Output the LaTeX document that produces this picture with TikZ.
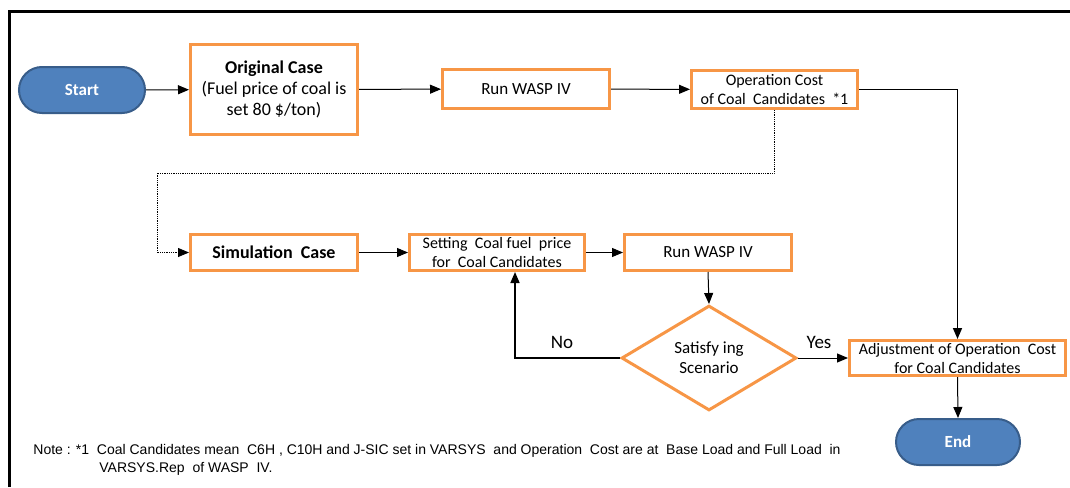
\documentclass[tikz,border=0pt]{standalone}
\usepackage{fontspec}
\setmainfont{Carlito}
\newfontfamily\notefont{Liberation Sans}
\usetikzlibrary{shapes.geometric,arrows.meta}
\definecolor{boxorange}{RGB}{247,150,70}
\definecolor{pillblue}{RGB}{79,129,189}
\definecolor{pillline}{RGB}{56,93,138}
\begin{document}
\begin{tikzpicture}[x=0.5pt,y=-0.5pt,
		stepbox/.style={draw=boxorange,line width=1.5pt,fill=white,align=center,inner sep=1pt,font=\fontsize{8.5}{10}\selectfont},
		pill/.style={draw=pillline,line width=1pt,fill=pillblue,text=white,font=\bfseries\fontsize{8.5}{10}\selectfont,minimum width=63pt,minimum height=23pt,rounded corners=11.5pt},
		decide/.style={diamond,draw=boxorange,line width=1.5pt,align=center,inner sep=0pt,minimum width=87.5pt,minimum height=52.5pt,font=\fontsize{8.5}{10}\selectfont},
		flow/.style={-{Triangle[length=5.5pt,width=4.5pt]},line width=0.5pt},
		lbl/.style={font=\fontsize{9.5}{11}\selectfont}]
		\useasboundingbox (0,0) rectangle (1070,487);
		\draw[line width=1.5pt] (9,487)--(9,11.5)--(1070,11.5);
		
		\node[pill] (start) at (82,90) {Start};
		\node[stepbox,minimum width=83.5pt,minimum height=45pt,font=\fontsize{9}{10.5}\selectfont] (orig) at (274,89.5) {\textbf{Original Case}\\(Fuel price of coal is\\set 80 \$/ton)};
		\node[stepbox,minimum width=83.5pt,minimum height=19.5pt] (runtop) at (526,89) {Run WASP IV};
		\node[stepbox,minimum width=83pt,minimum height=19pt,font=\fontsize{8}{9.5}\selectfont] (opcost) at (774.5,89.5) {Operation Cost\\of Coal \ Candidates \ *1};
		\node[stepbox,minimum width=83.5pt,minimum height=18pt,font=\bfseries\fontsize{9}{10}\selectfont] (sim) at (274,252.5) {Simulation \ Case};
		\node[stepbox,minimum width=87.5pt,minimum height=18pt,font=\fontsize{8}{9.5}\selectfont] (setting) at (497,252.5) {Setting \ Coal fuel \ price\\for \ Coal Candidates};
		\node[stepbox,minimum width=83.5pt,minimum height=18pt] (runbot) at (708,252.5) {Run WASP IV};
		\node[decide] (dia) at (709,358) {Satisfy ing\\Scenario};
		\node[stepbox,minimum width=108pt,minimum height=17.5pt,font=\fontsize{8}{9.5}\selectfont] (adjust) at (957.5,358) {Adjustment of Operation \ Cost\\for Coal Candidates};
		\node[pill,minimum width=62pt] (end) at (958,442) {End};
		
		\coordinate (dotturn) at (157,173);
		\coordinate (noturn) at (515,358);
		
		\draw[flow] (start)--(orig);
		\draw[flow] (orig)--(runtop);
		\draw[flow] (runtop)--(opcost);
		\draw[flow,line width=0.8pt] (opcost.east)-|(adjust.north);
		\draw[flow,line width=0.4pt,dash pattern=on 0.4pt off 0.5pt] (opcost.south)|-(dotturn)|-(sim.west);
		\draw[flow] (sim)--(setting);
		\draw[flow] (setting)--(runbot);
		\draw[flow] (runbot.south)--(dia.north);
		\draw[flow,line width=0.8pt] (dia.west)--(noturn)--(noturn|-setting.south);
		\draw[flow] (dia.east)--(adjust.west);
		\draw[flow] (adjust.south)--(end.north);
		
		\node[lbl,anchor=south] (nolbl) at (562,356) {No};
		\node[lbl,anchor=south] (yeslbl) at (819,356) {Yes};
		
		\node[anchor=base west,inner sep=0pt,font=\notefont\fontsize{7}{8}\selectfont] (note1) at (33,454) {Note : *1 \ Coal Candidates mean \ C6H , C10H and J-SIC set in VARSYS \ and Operation \ Cost are at \ Base Load and Full Load \ in};
		\node[anchor=base west,inner sep=0pt,font=\notefont\fontsize{7}{8}\selectfont] (note2) at (99,472) {VARSYS.Rep \ of WASP \ IV.};
	\end{tikzpicture}
\end{document}
